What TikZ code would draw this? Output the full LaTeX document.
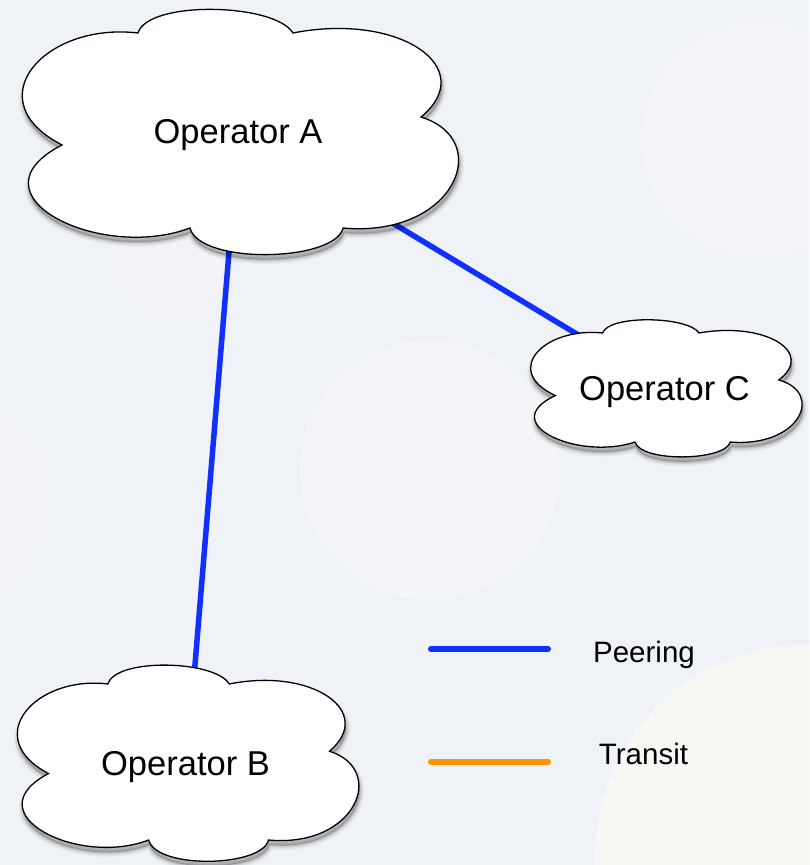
\documentclass[tikz,border=0pt]{standalone}
\usepackage{fontspec}
\setmainfont{Liberation Sans}
\definecolor{bg}{RGB}{239,242,247}
\definecolor{peer}{RGB}{16,48,255}
\definecolor{transit}{RGB}{255,148,0}
\definecolor{warmcircle}{RGB}{247,247,244}
\newcommand\mycloudpath{(-0.457,0.796)
  .. controls (-0.412,1.065) and (0.163,1.041) .. (0.244,0.796)
  .. controls (0.729,0.967) and (1.090,0.510) .. (0.824,0.110)
  .. controls (1.158,-0.078) and (0.977,-0.878) .. (0.471,-0.796)
  .. controls (0.434,-1.073) and (-0.176,-1.098) .. (-0.222,-0.796)
  .. controls (-0.629,-1.073) and (-1.240,-0.527) .. (-0.801,-0.118)
  .. controls (-1.195,0.249) and (-0.878,0.886) .. (-0.457,0.796) -- cycle}
\newcommand\mycloud[4]{%
  \begin{scope}[shift={(#1,#2)}]
    \foreach \w/\o in {9/0.035,6.5/0.045,4/0.06,2/0.08} {
      \begin{scope}[shift={(1,5)}, xscale=#3, yscale=-#4]
        \fill[black, opacity=\o, draw=black, line width=\w pt, line join=round] \mycloudpath;
      \end{scope}}
    \begin{scope}[xscale=#3, yscale=-#4]
      \filldraw[fill=white, draw=black, line width=1.3pt, line join=miter] \mycloudpath;
    \end{scope}
  \end{scope}}
\tikzset{
  peerline/.style={draw=peer, line width=5.5pt},
  legendline/.style={line width=6pt, line cap=round},
  oplabel/.style={anchor=base, font=\fontsize{34.5}{40}\selectfont, inner sep=0pt},
  leglabel/.style={anchor=base, font=\fontsize{29.5}{34}\selectfont, inner sep=0pt},
}
\begin{document}
\begin{tikzpicture}[x=1pt, y=-1pt]
  \useasboundingbox (0,0) rectangle (809,865);
  \fill[bg] (0,0) rectangle (809,865);
  % faint background circles
  \begin{scope}
    \clip (0,0) rectangle (809,865);
    \fill[white, opacity=0.25] (430,470) circle (130);
    \fill[white, opacity=0.2] (760,140) circle (120);
    \fill[white, opacity=0.15] (-70,500) circle (120);
    \fill[white, opacity=0.15] (170,260) circle (60);
    \fill[warmcircle] (805,855) circle (210);
  \end{scope}
  % centres of the clouds
  \coordinate (A) at (239,130.5);
  \coordinate (B) at (187,762);
  \coordinate (C) at (665.5,387.5);
  % connectors (behind clouds)
  \draw[peerline] (A) -- (B);
  \draw[peerline] (A) -- (C);
  % clouds
  \mycloud{239}{130.5}{221}{122.5}
  \mycloud{187}{762}{173}{98}
  \mycloud{665.5}{387.5}{137.5}{68.5}
  % labels
  \node[oplabel] (labA) at (238,143) {Operator A};
  \node[oplabel] (labB) at (185.5,775) {Operator B};
  \node[oplabel] (labC) at (664.5,400) {Operator C};
  % legend
  \coordinate (p1) at (431,649);
  \coordinate (p2) at (548,649);
  \coordinate (t1) at (431,761.5);
  \coordinate (t2) at (548,761.5);
  \draw[legendline, peer] (p1) -- (p2);
  \draw[legendline, transit] (t1) -- (t2);
  \node[leglabel] (peering) at (644,662) {Peering};
  \node[leglabel] (transitlab) at (643.5,764) {Transit};
\end{tikzpicture}
\end{document}
